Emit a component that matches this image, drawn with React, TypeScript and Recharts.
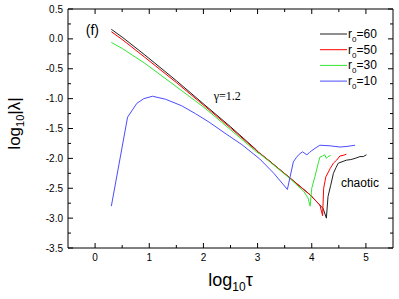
import React from 'react';
import { LineChart, Line, XAxis, YAxis, Legend, ReferenceDot } from 'recharts';

// ---------- data ----------
const seriesNames = ['r0=60', 'r0=50', 'r0=30', 'r0=10'];

const r60 = [
  { x: 0.3, y: 0.16 }, { x: 0.5, y: 0.03 }, { x: 0.92, y: -0.27 }, { x: 1.5, y: -0.7 },
  { x: 2.03, y: -1.11 }, { x: 2.5, y: -1.47 }, { x: 2.98, y: -1.86 }, { x: 3.01, y: -1.9 },
  { x: 3.05, y: -1.92 }, { x: 3.2, y: -2.03 }, { x: 3.6, y: -2.33 }, { x: 3.97, y: -2.61 },
  { x: 4.21, y: -2.84 }, { x: 4.27, y: -3.0 }, { x: 4.3, y: -2.64 }, { x: 4.35, y: -2.45 },
  { x: 4.4, y: -2.25 }, { x: 4.45, y: -2.15 }, { x: 4.49, y: -2.08 }, { x: 4.64, y: -2.03 },
  { x: 4.72, y: -2.02 }, { x: 4.8, y: -2.0 }, { x: 4.89, y: -1.97 }, { x: 4.95, y: -1.97 },
  { x: 5.01, y: -1.94 },
];

const r50 = [
  { x: 0.3, y: 0.12 }, { x: 0.5, y: -0.01 }, { x: 0.92, y: -0.31 }, { x: 1.5, y: -0.73 },
  { x: 2.03, y: -1.13 }, { x: 2.5, y: -1.49 }, { x: 2.98, y: -1.87 }, { x: 3.05, y: -1.92 },
  { x: 3.2, y: -2.03 }, { x: 3.6, y: -2.33 }, { x: 3.97, y: -2.61 }, { x: 4.15, y: -2.78 },
  { x: 4.2, y: -2.96 }, { x: 4.22, y: -2.5 }, { x: 4.26, y: -2.31 }, { x: 4.34, y: -2.17 },
  { x: 4.4, y: -2.08 }, { x: 4.46, y: -2.03 }, { x: 4.52, y: -1.96 }, { x: 4.58, y: -1.95 },
  { x: 4.64, y: -1.93 },
];

const r30 = [
  { x: 0.3, y: -0.06 }, { x: 0.5, y: -0.16 }, { x: 0.92, y: -0.41 }, { x: 1.5, y: -0.8 },
  { x: 2.03, y: -1.16 }, { x: 2.5, y: -1.52 }, { x: 2.98, y: -1.89 }, { x: 3.05, y: -1.93 },
  { x: 3.2, y: -2.04 }, { x: 3.6, y: -2.34 }, { x: 3.85, y: -2.55 }, { x: 3.93, y: -2.66 },
  { x: 3.97, y: -2.8 }, { x: 4.0, y: -2.5 }, { x: 4.06, y: -2.3 }, { x: 4.12, y: -2.08 },
  { x: 4.15, y: -1.98 }, { x: 4.2, y: -1.96 }, { x: 4.24, y: -1.94 }, { x: 4.27, y: -2.0 },
  { x: 4.3, y: -1.97 }, { x: 4.35, y: -1.95 },
];

const r10 = [
  { x: 0.3, y: -2.8 }, { x: 0.6, y: -1.31 }, { x: 0.77, y: -1.08 }, { x: 0.9, y: -1.0 },
  { x: 1.06, y: -0.96 }, { x: 1.3, y: -1.01 }, { x: 1.6, y: -1.12 }, { x: 1.85, y: -1.25 },
  { x: 2.1, y: -1.39 }, { x: 2.4, y: -1.58 }, { x: 2.71, y: -1.77 }, { x: 3.04, y: -2.01 },
  { x: 3.3, y: -2.25 }, { x: 3.55, y: -2.52 }, { x: 3.6, y: -2.31 }, { x: 3.66, y: -2.06 },
  { x: 3.72, y: -1.98 }, { x: 3.77, y: -1.93 }, { x: 3.83, y: -1.89 }, { x: 3.91, y: -1.94 },
  { x: 3.96, y: -1.9 }, { x: 4.0, y: -1.87 }, { x: 4.08, y: -1.82 }, { x: 4.15, y: -1.78 },
  { x: 4.34, y: -1.79 }, { x: 4.52, y: -1.81 }, { x: 4.65, y: -1.8 }, { x: 4.8, y: -1.78 },
];

const xTicks = [0, 0.5, 1, 1.5, 2, 2.5, 3, 3.5, 4, 4.5, 5];
const xLabels = [0, 1, 2, 3, 4, 5];
const yTicks = [-3.5, -3.25, -3, -2.75, -2.5, -2.25, -2, -1.75, -1.5, -1.25, -1, -0.75, -0.5, -0.25, 0, 0.25, 0.5];
const yLabels = [-3.5, -3, -2.5, -2, -1.5, -1, -0.5, 0, 0.5];

const seriesData = [r60, r50, r30, r10];
const colors = ['#202020', '#ff0000', '#33e633', '#4c4cff'];

const FONT = '"Liberation Sans", Arial, sans-serif';

const isMajorX = (v: number) => xLabels.some((l) => Math.abs(l - v) < 1e-6);
const isMajorY = (v: number) => yLabels.some((l) => Math.abs(l - v) < 1e-6);

const BottomTick = (p: any) => {
  const v = p.payload.value;
  const major = isMajorX(v);
  return (
    <g>
      <line x1={p.x} y1={p.y} x2={p.x} y2={p.y - (major ? 5 : 3)} stroke="#000" strokeWidth={1} />
      {major && (
        <text x={p.x} y={p.y + 13} textAnchor="middle" fontSize={10} fontFamily={FONT} fill="#000">
          {String(v)}
        </text>
      )}
    </g>
  );
};

const TopTick = (p: any) => {
  const major = isMajorX(p.payload.value);
  return <line x1={p.x} y1={p.y} x2={p.x} y2={p.y + (major ? 5 : 3)} stroke="#000" strokeWidth={1} />;
};

const LeftTick = (p: any) => {
  const v = p.payload.value;
  const major = isMajorY(v);
  return (
    <g>
      <line x1={p.x} y1={p.y} x2={p.x + (major ? 5 : 3)} y2={p.y} stroke="#000" strokeWidth={1} />
      {major && (
        <text x={p.x - 5} y={p.y + 3.5} textAnchor="end" fontSize={10} fontFamily={FONT} fill="#000">
          {v.toFixed(1)}
        </text>
      )}
    </g>
  );
};

const RightTick = (p: any) => {
  const major = isMajorY(p.payload.value);
  return <line x1={p.x} y1={p.y} x2={p.x - (major ? 5 : 3)} y2={p.y} stroke="#000" strokeWidth={1} />;
};

const XTitle = (p: any) => {
  const vb = p.viewBox;
  const cx = vb.x + vb.width / 2;
  return (
    <text x={cx} y={vb.y + 38} textAnchor="middle" fontSize={18} fontFamily={FONT} fill="#000">
      <tspan>log</tspan>
      <tspan fontSize={12} dy={5}>10</tspan>
      <tspan dy={-5}>τ</tspan>
    </text>
  );
};

const YTitle = (p: any) => {
  const vb = p.viewBox;
  const bx = vb.x + 20;
  const cy = vb.y + vb.height / 2 - 5;
  return (
    <text
      x={bx}
      y={cy}
      transform={`rotate(-90 ${bx} ${cy})`}
      textAnchor="middle"
      fontSize={17}
      fontFamily={FONT}
      fill="#000"
    >
      <tspan>log</tspan>
      <tspan fontSize={11} dy={4}>10</tspan>
      <tspan dy={-4}>|λ|</tspan>
    </text>
  );
};

const LegendContent = () => (
  <svg width={70} height={66} style={{ display: 'block' }}>
    {seriesNames.map((name, i) => {
      const cy = 8 + i * 15.7;
      const [r, rest] = name.split('0=');
      return (
        <g key={name}>
          <line x1={2} y1={cy} x2={29} y2={cy} stroke={colors[i]} strokeWidth={1} />
          <text x={30} y={cy + 4} fontSize={12} fontFamily={FONT} fill="#000">
            <tspan>{r}</tspan>
            <tspan fontSize={8} dy={4}>0</tspan>
            <tspan dy={-4}>={rest}</tspan>
          </text>
        </g>
      );
    })}
  </svg>
);

export default function App() {
  return (
    <div style={{ position: 'absolute', left: 0, top: 0, width: 399, height: 299, background: '#fff' }}>
      <LineChart width={399} height={299} margin={{ top: 0, right: 0, left: 0, bottom: 0 }}>
        <XAxis
          xAxisId="b"
          dataKey="x"
          type="number"
          domain={[-0.5, 5.5]}
          ticks={xTicks}
          interval={0}
          orientation="bottom"
          height={51}
          tickSize={0}
          tickMargin={0}
          tickLine={false}
          tick={<BottomTick />}
          axisLine={{ stroke: '#000', strokeWidth: 1 }}
          allowDataOverflow
          label={<XTitle />}
        />
        <XAxis
          xAxisId="t"
          dataKey="x"
          type="number"
          domain={[-0.5, 5.5]}
          ticks={xTicks}
          interval={0}
          orientation="top"
          height={9}
          tickSize={0}
          tickMargin={0}
          tickLine={false}
          tick={<TopTick />}
          axisLine={{ stroke: '#000', strokeWidth: 1 }}
          allowDataOverflow
        />
        <YAxis
          yAxisId="l"
          type="number"
          domain={[-3.5, 0.5]}
          ticks={yTicks}
          interval={0}
          orientation="left"
          width={68}
          tickSize={0}
          tickMargin={0}
          tickLine={false}
          tick={<LeftTick />}
          axisLine={{ stroke: '#000', strokeWidth: 1 }}
          allowDataOverflow
          label={<YTitle />}
        />
        <YAxis
          yAxisId="r"
          type="number"
          domain={[-3.5, 0.5]}
          ticks={yTicks}
          interval={0}
          orientation="right"
          width={6}
          tickSize={0}
          tickMargin={0}
          tickLine={false}
          tick={<RightTick />}
          axisLine={{ stroke: '#000', strokeWidth: 1 }}
          allowDataOverflow
        />
        {seriesData.map((d, i) => (
          <Line
            key={seriesNames[i]}
            xAxisId="b"
            yAxisId="l"
            data={d}
            dataKey="y"
            name={seriesNames[i]}
            type="linear"
            stroke={colors[i]}
            strokeWidth={1}
            dot={false}
            activeDot={false}
            isAnimationActive={false}
          />
        ))}
        {seriesData.map((d, i) => (
          <Line
            key={'mirror' + i}
            xAxisId="t"
            yAxisId="r"
            data={d}
            dataKey="y"
            stroke="none"
            dot={false}
            activeDot={false}
            legendType="none"
            isAnimationActive={false}
          />
        ))}
        <ReferenceDot
          xAxisId="b"
          yAxisId="l"
          x={-0.05}
          y={0.15}
          r={0}
          fill="none"
          stroke="none"
          label={{ value: '(f)', position: 'center', fontSize: 14, fontFamily: FONT, fill: '#000' }}
        />
        <ReferenceDot
          xAxisId="b"
          yAxisId="l"
          x={2.44}
          y={-0.955}
          r={0}
          fill="none"
          stroke="none"
          label={{ value: 'γ=1.2', position: 'center', fontSize: 12, fontFamily: '"Liberation Serif", "Times New Roman", serif', fill: '#000' }}
        />
        <ReferenceDot
          xAxisId="b"
          yAxisId="l"
          x={4.89}
          y={-2.4}
          r={0}
          fill="none"
          stroke="none"
          label={{ value: 'chaotic', position: 'center', fontSize: 12, fontFamily: FONT, fill: '#000' }}
        />
        <Legend
          layout="horizontal"
          verticalAlign="middle"
          align="center"
          content={<LegendContent />}
          wrapperStyle={{ position: 'absolute', left: 318, top: 26, width: 70, height: 66 }}
        />
      </LineChart>
    </div>
  );
}
